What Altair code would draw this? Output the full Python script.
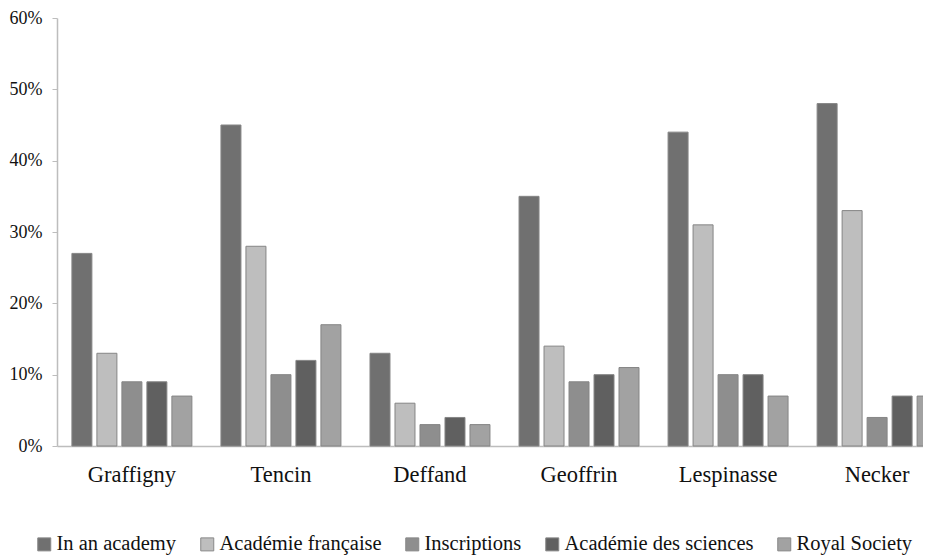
import altair as alt
import pandas as pd

categories = ["Graffigny", "Tencin", "Deffand", "Geoffrin", "Lespinasse", "Necker"]
series = ["In an academy", "Académie française", "Inscriptions", "Académie des sciences", "Royal Society"]
colors = ["#707070", "#bebebe", "#8e8e8e", "#606060", "#a2a2a2"]

in_academy = [27, 45, 13, 35, 44, 48]
academie_francaise = [13, 28, 6, 14, 31, 33]
inscriptions = [9, 10, 3, 9, 10, 4]
academie_sciences = [9, 12, 4, 10, 10, 7]
royal_society = [7, 17, 3, 11, 7, 7]

y_ticks = [0, 0.1, 0.2, 0.3, 0.4, 0.5, 0.6]

rows = []
for s, vals in zip(series, [in_academy, academie_francaise, inscriptions, academie_sciences, royal_society]):
    for c, v in zip(categories, vals):
        rows.append({"salon": c, "series": s, "value": v / 100})
df = pd.DataFrame(rows)

font = "Liberation Serif"

chart = alt.Chart(df).mark_bar(stroke="#858585", strokeWidth=1).encode(
    x=alt.X("salon:N", sort=categories, title=None,
            scale=alt.Scale(range=[0, 895], paddingInner=0.195, paddingOuter=0.1),
            axis=alt.Axis(labelAngle=0, ticks=False, tickSize=0, labelPadding=17,
                          labelFont=font, labelFontSize=22.5, labelColor="#111",
                          domainColor="#bdbdbd", domainWidth=1.5, grid=False)),
    xOffset=alt.XOffset("series:N", sort=series,
                        scale=alt.Scale(paddingInner=0.2, paddingOuter=0)),
    y=alt.Y("value:Q", title=None,
            scale=alt.Scale(domain=[0, 0.6], nice=False),
            axis=alt.Axis(values=y_ticks, format=".0%", grid=False,
                          tickSize=5, tickColor="#bdbdbd", domainColor="#bdbdbd",
                          domainWidth=1.5, labelPadding=10,
                          labelFont=font, labelFontSize=18, labelColor="#111")),
    fill=alt.Fill("series:N", sort=series,
                  scale=alt.Scale(domain=series, range=colors),
                  legend=alt.Legend(title=None, orient="none", direction="horizontal",
                                    columns=5, legendX=-23, legendY=516,
                                    symbolType="square", symbolSize=169,
                                    symbolStrokeColor="#888", symbolStrokeWidth=1,
                                    symbolOpacity=1, labelOffset=2, columnPadding=20,
                                    labelFont=font, labelFontSize=20.5, labelColor="#111",
                                    labelLimit=400)),
).properties(
    width=866,
    height=428,
    autosize=alt.AutoSizeParams(type="none"),
    padding={"left": 49, "top": 10, "right": 0, "bottom": 111},
).configure_view(stroke=None)

chart.save("out.html", embed_options={"renderer": "svg", "actions": False})
